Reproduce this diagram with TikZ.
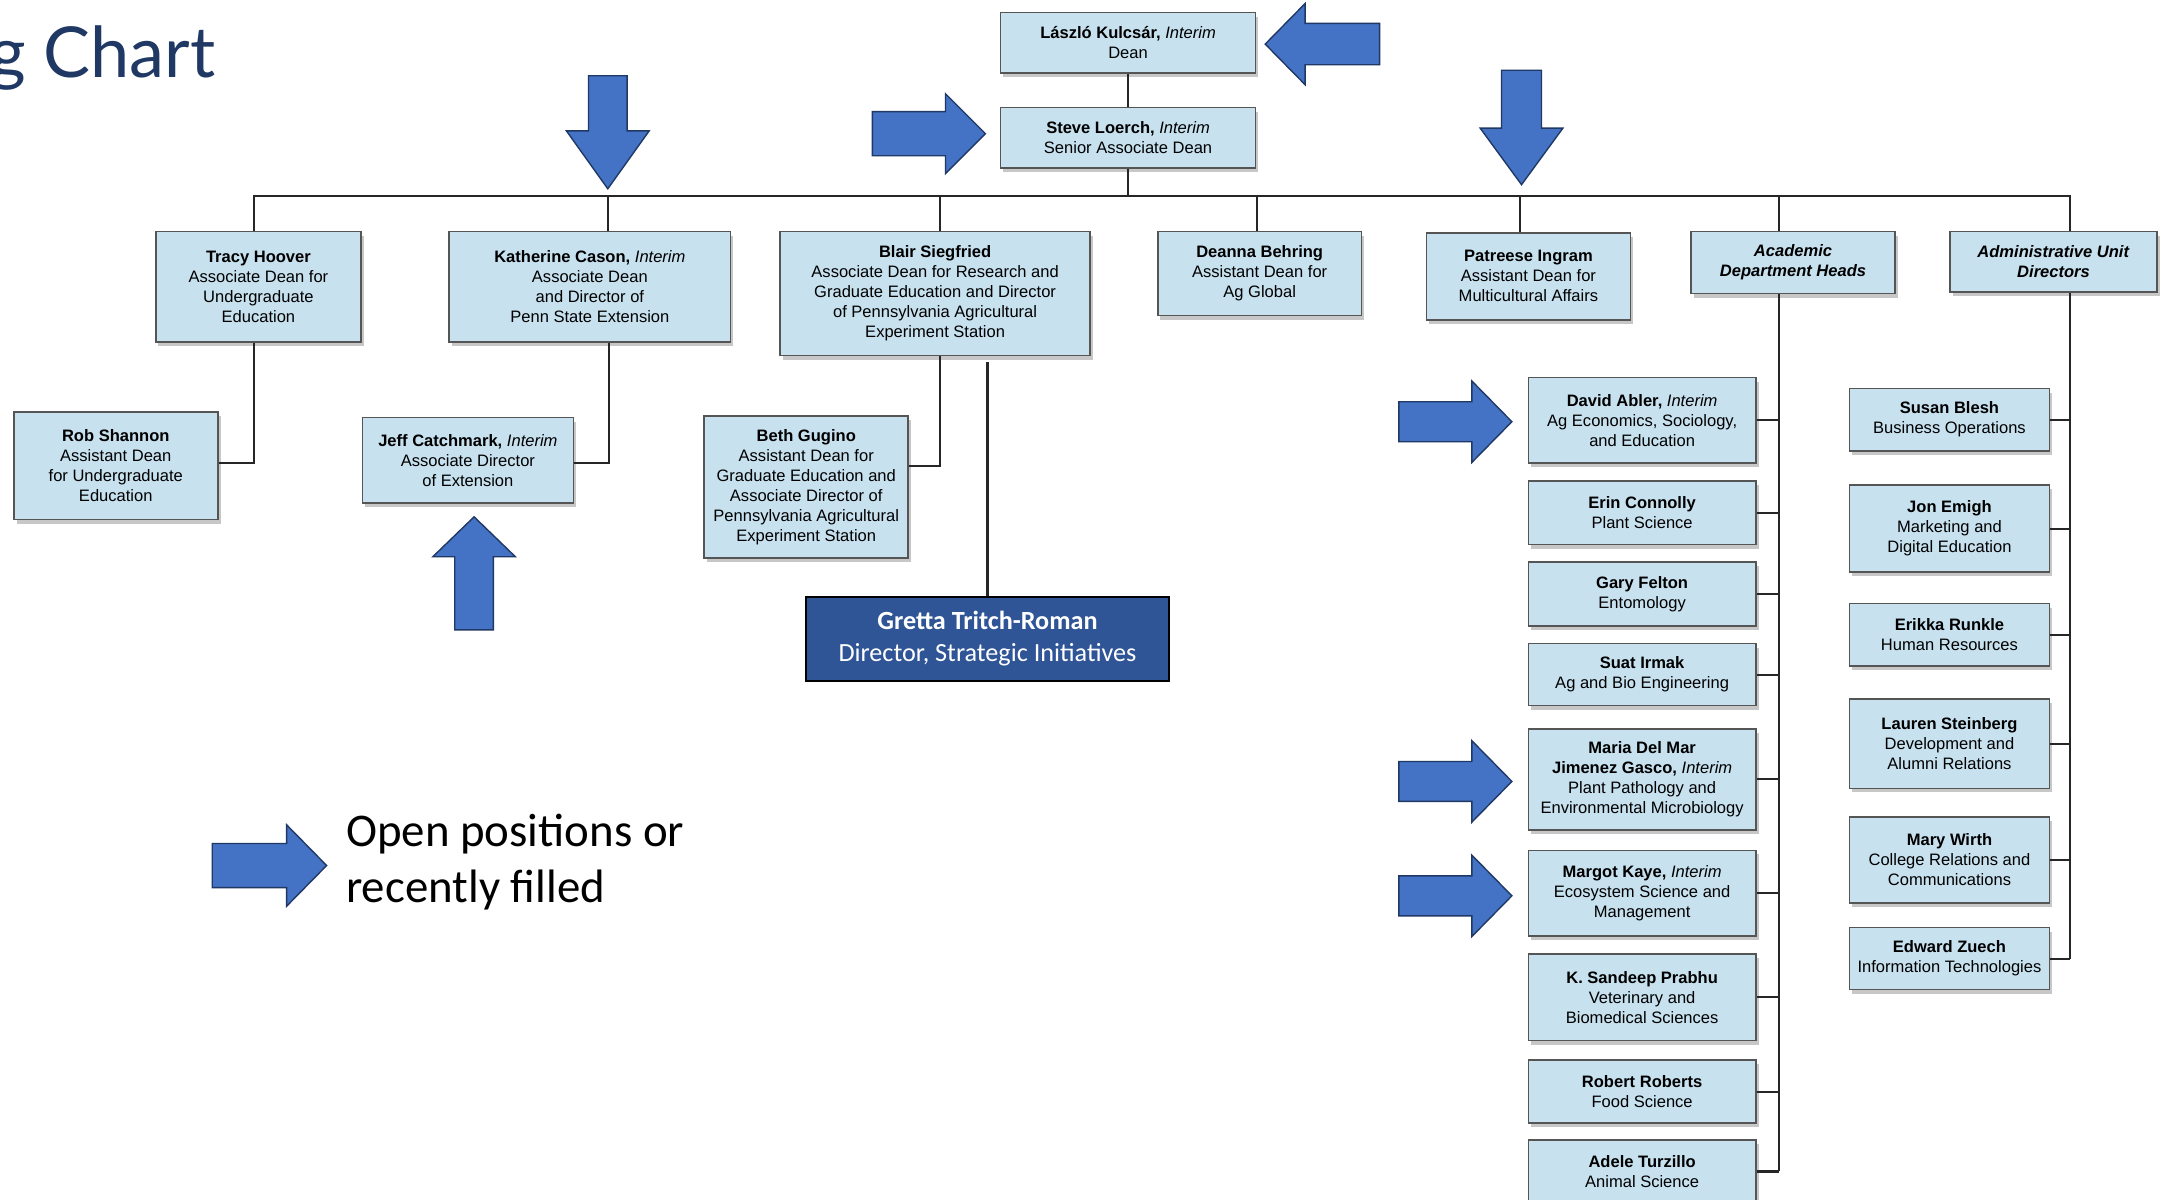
\documentclass[tikz,border=0pt]{standalone}
\usepackage{fontspec}
\setmainfont{Liberation Sans}
\newfontfamily\carlito{Carlito}
\newfontfamily\titlefnt{Lato}
\usetikzlibrary{shadows}
\definecolor{boxfill}{HTML}{C7E1EF}
\definecolor{boxline}{HTML}{555555}
\definecolor{arrfill}{HTML}{4472C4}
\definecolor{arrline}{HTML}{1F3864}
\definecolor{navy}{HTML}{1F3864}
\definecolor{gretfill}{HTML}{2F5597}
\tikzset{
  orgbox/.style={draw=boxline, fill=boxfill, line width=1.2pt, inner sep=0pt, align=center,
    font=\fontsize{12}{14.5}\selectfont,
    drop shadow={shadow xshift=2pt, shadow yshift=-3pt, opacity=0.22, fill=black}},
  conn/.style={draw=black!85, line width=1.5pt},
  arrowstyle/.style={fill=arrfill, draw=arrline, line width=1pt, line join=miter},
}
% horizontal block arrow: tipx, tipy, dir (1 right, -1 left), length, head length, shaft half, head half
\newcommand{\harrow}[7]{%
  \draw[arrowstyle] (#1,#2) -- ({#1-(#3)*#5},{#2-#7}) -- ({#1-(#3)*#5},{#2-#6}) -- ({#1-(#3)*#4},{#2-#6})
   -- ({#1-(#3)*#4},{#2+#6}) -- ({#1-(#3)*#5},{#2+#6}) -- ({#1-(#3)*#5},{#2+#7}) -- cycle;}
% vertical block arrow: tipx, tipy, dir (1 down, -1 up), length, head length, shaft half, head half
\newcommand{\varrow}[7]{%
  \draw[arrowstyle] (#1,#2) -- ({#1-#7},{#2-(#3)*#5}) -- ({#1-#6},{#2-(#3)*#5}) -- ({#1-#6},{#2-(#3)*#4})
   -- ({#1+#6},{#2-(#3)*#4}) -- ({#1+#6},{#2-(#3)*#5}) -- ({#1+#7},{#2-(#3)*#5}) -- cycle;}
\begin{document}
\begin{tikzpicture}[x=1pt, y=-1pt]
\useasboundingbox (0,0) rectangle (1568,870);
\fill[white] (0,0) rectangle (1568,870);

% title fragment
\node[anchor=base west, inner sep=0, text=navy, font=\titlefnt\fontsize{51}{51}\selectfont] (title) at (-8,56) {g Chart};

% top
\node[orgbox, minimum width=185pt, minimum height=44pt] (kulcsar) at (818.5,31) {\textbf{László Kulcsár,} \textit{Interim}\\Dean};
\node[orgbox, minimum width=185pt, minimum height=44pt] (loerch) at (818.5,100) {\textbf{Steve Loerch,} \textit{Interim}\\Senior Associate Dean};
\coordinate (bus) at (818.5,142);

% second row
\node[orgbox, minimum width=149pt, minimum height=80pt] (tracy) at (187.5,208) {\textbf{Tracy Hoover}\\Associate Dean for\\Undergraduate\\Education};
\node[orgbox, minimum width=204pt, minimum height=80pt] (cason) at (428,208) {\textbf{Katherine Cason,} \textit{Interim}\\Associate Dean\\and Director of\\Penn State Extension};
\node[orgbox, minimum width=225pt, minimum height=90pt] (blair) at (678.5,213) {\textbf{Blair Siegfried}\\Associate Dean for Research and\\Graduate Education and Director\\of Pennsylvania Agricultural\\Experiment Station};
\node[orgbox, minimum width=148pt, minimum height=61pt] (deanna) at (914,198.5) {\textbf{Deanna Behring}\\Assistant Dean for\\Ag Global};
\node[orgbox, minimum width=148pt, minimum height=63pt] (patreese) at (1109,200.5) {\textbf{Patreese Ingram}\\Assistant Dean for\\Multicultural Affairs};
\node[orgbox, minimum width=148pt, minimum height=45pt] (acad) at (1301,190.5) {\textbf{\textit{Academic}}\\\textbf{\textit{Department Heads}}};
\node[orgbox, minimum width=150pt, minimum height=44pt] (admin) at (1490,190) {\textbf{\textit{Administrative Unit}}\\\textbf{\textit{Directors}}};

% third level
\node[orgbox, minimum width=148pt, minimum height=78pt] (shannon) at (84,338) {\textbf{Rob Shannon}\\Assistant Dean\\for Undergraduate\\Education};
\node[orgbox, minimum width=153pt, minimum height=62pt] (jeff) at (339.5,334) {\textbf{Jeff Catchmark,} \textit{Interim}\\Associate Director\\of Extension};
\node[orgbox, minimum width=148pt, minimum height=103pt] (beth) at (585,353.5) {\textbf{Beth Gugino}\\Assistant Dean for\\Graduate Education and\\Associate Director of\\Pennsylvania Agricultural\\Experiment Station};
\node[draw=black, line width=1.5pt, fill=gretfill, text=white, inner sep=0, align=center,
  font=\carlito\fontsize{19}{23.5}\selectfont, minimum width=263pt, minimum height=61pt] (gretta) at (716.5,463.5)
  {\textbf{Gretta Tritch-Roman}\\Director, Strategic Initiatives};

% academic departments
\node[orgbox, minimum width=165pt, minimum height=62pt] (abler) at (1191.5,305) {\textbf{David Abler,} \textit{Interim}\\Ag Economics, Sociology,\\and Education};
\node[orgbox, minimum width=165pt, minimum height=46pt] (connolly) at (1191.5,372) {\textbf{Erin Connolly}\\Plant Science};
\node[orgbox, minimum width=165pt, minimum height=46pt] (felton) at (1191.5,431) {\textbf{Gary Felton}\\Entomology};
\node[orgbox, minimum width=165pt, minimum height=45pt] (irmak) at (1191.5,489.5) {\textbf{Suat Irmak}\\Ag and Bio Engineering};
\node[orgbox, minimum width=165pt, minimum height=73pt] (gasco) at (1191.5,565.5) {\textbf{Maria Del Mar}\\\textbf{Jimenez Gasco,} \textit{Interim}\\Plant Pathology and\\Environmental Microbiology};
\node[orgbox, minimum width=165pt, minimum height=62pt] (kaye) at (1191.5,648) {\textbf{Margot Kaye,} \textit{Interim}\\Ecosystem Science and\\Management};
\node[orgbox, minimum width=165pt, minimum height=63pt] (prabhu) at (1191.5,723.5) {\textbf{K. Sandeep Prabhu}\\Veterinary and\\Biomedical Sciences};
\node[orgbox, minimum width=165pt, minimum height=46pt] (roberts) at (1191.5,792) {\textbf{Robert Roberts}\\Food Science};
\node[orgbox, minimum width=165pt, minimum height=46pt] (turzillo) at (1191.5,850) {\textbf{Adele Turzillo}\\Animal Science};

% administrative units
\node[orgbox, minimum width=145pt, minimum height=45pt] (blesh) at (1414.5,304.5) {\textbf{Susan Blesh}\\Business Operations};
\node[orgbox, minimum width=145pt, minimum height=63pt] (emigh) at (1414.5,383.5) {\textbf{Jon Emigh}\\Marketing and\\Digital Education};
\node[orgbox, minimum width=145pt, minimum height=45pt] (runkle) at (1414.5,460.5) {\textbf{Erikka Runkle}\\Human Resources};
\node[orgbox, minimum width=145pt, minimum height=65pt] (steinberg) at (1414.5,539.5) {\textbf{Lauren Steinberg}\\Development and\\Alumni Relations};
\node[orgbox, minimum width=145pt, minimum height=62pt] (wirth) at (1414.5,624) {\textbf{Mary Wirth}\\College Relations and\\Communications};
\node[orgbox, minimum width=145pt, minimum height=45pt] (zuech) at (1414.5,695.5) {\textbf{Edward Zuech}\\Information Technologies};

% connectors
\draw[conn] (kulcsar.south) -- (loerch.north);
\draw[conn] (loerch.south) -- (bus);
\draw[conn] ([xshift=-3.5pt]tracy.north) |- ([xshift=12pt]admin.north |- bus) -- ([xshift=12pt]admin.north);
\draw[conn] ([xshift=13pt]cason.north) -- ([xshift=13pt]cason.north |- bus);
\draw[conn] ([xshift=3.5pt]blair.north) -- ([xshift=3.5pt]blair.north |- bus);
\draw[conn] ([xshift=-2pt]deanna.north) -- ([xshift=-2pt]deanna.north |- bus);
\draw[conn] ([xshift=-6pt]patreese.north) -- ([xshift=-6pt]patreese.north |- bus);
\draw[conn] ([xshift=-10pt]acad.north) -- ([xshift=-10pt]acad.north |- bus);

\draw[conn] ([xshift=-3.5pt]tracy.south) |- ([yshift=2pt]shannon.east);
\draw[conn] ([xshift=14pt]cason.south) |- ([yshift=-2pt]jeff.east);
\draw[conn] ([xshift=3.5pt]blair.south) |- ([yshift=15.5pt]beth.east);
\draw[conn] (gretta.north) -- ([yshift=-4pt]gretta.north |- blair.south);

\coordinate (acadbus) at ([xshift=-10pt]acad.south);
\draw[conn] (acadbus) -- (acadbus |- turzillo.east);
\foreach \n in {abler,connolly,felton,irmak,gasco,kaye,prabhu,roberts,turzillo}
  \draw[conn] (\n.east) -- (\n.east -| acadbus);

\coordinate (adminbus) at ([xshift=12pt]admin.south);
\draw[conn] (adminbus) -- (adminbus |- zuech.east);
\foreach \n in {blesh,emigh,runkle,steinberg,wirth,zuech}
  \draw[conn] (\n.east) -- (\n.east -| adminbus);

% block arrows
\harrow{918}{32}{-1}{83}{29}{15}{29.5}
\harrow{715}{97}{1}{82}{29}{16}{29}
\varrow{441}{137}{1}{82}{42}{14}{30}
\varrow{1104}{134}{1}{83}{41}{14.5}{30}
\varrow{344}{375}{-1}{82}{29}{14}{30}
\harrow{1097}{306}{1}{82}{29}{14.5}{29.5}
\harrow{1097}{567}{1}{82}{29}{14.5}{29.5}
\harrow{1097}{650}{1}{82}{29}{14.5}{29.5}

% legend
\harrow{237}{628}{1}{83}{29}{16}{29.5}
\node[anchor=base west, inner sep=0, font=\carlito\fontsize{34}{41}\selectfont] (legend1) at (251,614) {Open positions or};
\node[anchor=base west, inner sep=0, font=\carlito\fontsize{34}{41}\selectfont] (legend2) at (251,655) {recently filled};
\end{tikzpicture}
\end{document}
